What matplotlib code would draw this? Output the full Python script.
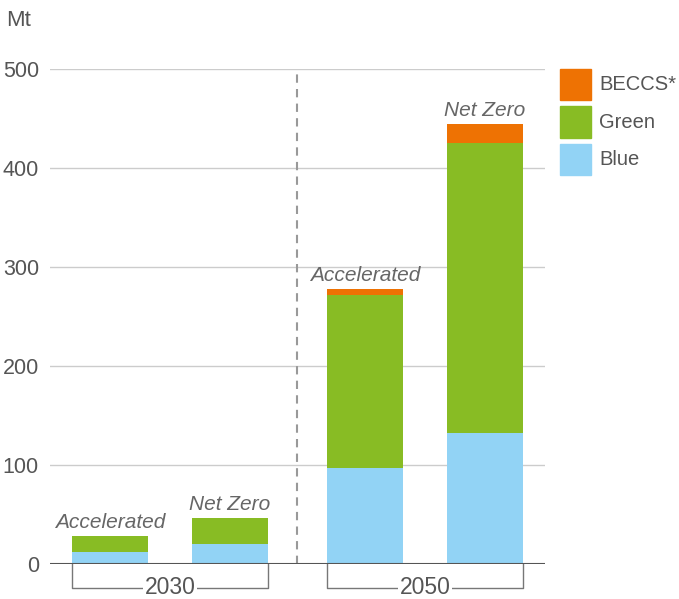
import matplotlib.pyplot as plt
from matplotlib.patches import Rectangle

# hydrogen production by scenario, Mt
scenarios = ['Accelerated', 'Net Zero', 'Accelerated', 'Net Zero']
years = ['2030', '2050']
blue = [12, 20, 97, 132]
green = [16, 26, 175, 293]
beccs = [0.3, 0.3, 6, 19]

c_blue = '#92d3f5'
c_green = '#88bc24'
c_beccs = '#ee7203'
txt = '#555555'

plt.rcParams['font.family'] = ['Liberation Sans', 'DejaVu Sans']

fig = plt.figure(figsize=(6.79, 5.99), dpi=100)
W, H = 679, 599
ax = fig.add_axes([50 / W, (H - 564) / H, (545 - 50) / W, (564 - 69) / H])

# bar positions: two per year, a wider gap between years
xpos = [0, 1, 2.125, 3.125]
width = 0.633

bottom2 = [b + g for b, g in zip(blue, green)]
ax.bar(xpos, blue, width, color=c_blue, zorder=3)
ax.bar(xpos, green, width, bottom=blue, color=c_green, zorder=3)
ax.bar(xpos, beccs, width, bottom=bottom2, color=c_beccs, zorder=3)

totals = [b + g + c for b, g, c in zip(blue, green, beccs)]
for x, t, s in zip(xpos, totals, scenarios):
    ax.annotate(s, (x, t), xytext=(0, 3), textcoords='offset points',
                ha='center', va='bottom', fontsize=15, style='italic',
                color='#666666')

ax.set_xlim(-0.5, 3.625)
ax.set_ylim(0, 500)
ax.set_yticks([0, 100, 200, 300, 400, 500])
ax.tick_params(axis='y', length=0, pad=8, labelsize=15.5, labelcolor=txt)
ax.set_xticks([])
for sp in ax.spines.values():
    sp.set_visible(False)
ax.yaxis.grid(True, color='#cccccc', linewidth=1)
ax.set_axisbelow(True)
ax.axhline(0, color='#555555', linewidth=1.5, zorder=4)

# dashed divider between the two years
ax.plot([1.558, 1.558], [0, 500], color='#999999', linewidth=1.5,
        linestyle=(0, (4, 3)), zorder=2)

# year brackets under the axis
tr = ax.get_xaxis_transform()
yb = -24 / 495
for i, yr in enumerate(years):
    x0 = xpos[2 * i] - width / 2
    x1 = xpos[2 * i + 1] + width / 2
    ax.plot([x0, x0, x1, x1], [0, yb, yb, 0], color='#777777',
            linewidth=1, transform=tr, clip_on=False)
    ax.text((x0 + x1) / 2, yb, yr, transform=tr, ha='center', va='center',
            fontsize=16.5, color=txt,
            bbox=dict(facecolor='white', edgecolor='none', pad=1))

fig.text(6 / W, 1 - 20 / H, 'Mt', fontsize=16, color=txt, va='center')

# legend, drawn as square swatches with labels
legend_items = [('BECCS*', c_beccs), ('Green', c_green), ('Blue', c_blue)]
for i, (name, col) in enumerate(legend_items):
    top = 69 + i * 37.5
    fig.patches.append(Rectangle((560 / W, 1 - (top + 31) / H), 31 / W, 31 / H,
                                 transform=fig.transFigure, color=col))
    fig.text(599 / W, 1 - (top + 15.5) / H, name, fontsize=14.5, color=txt,
             va='center')

fig.savefig('out.png', dpi=100)
